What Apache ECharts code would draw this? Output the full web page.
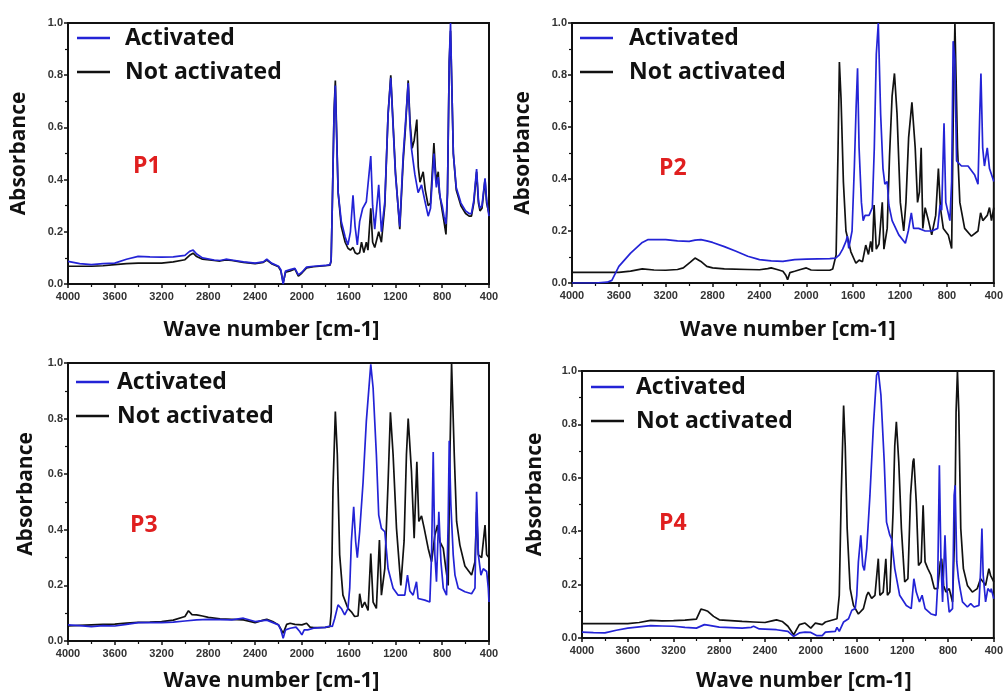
<!DOCTYPE html>
<html>
<head>
<meta charset="utf-8">
<script src="https://cdn.jsdelivr.net/npm/echarts@6/dist/echarts.min.js"></script>
<style>
html,body{margin:0;padding:0;background:#fff;}
#chart{width:1006px;height:693px;}
</style>
</head>
<body>
<div id="chart"></div>
<script>
// ---- data: [wave number (cm-1), absorbance] ----
const seriesNames = ['Activated', 'Not activated'];
const panelLabels = ['P1', 'P2', 'P3', 'P4'];
const xTickMin = 400, xTickMax = 4000, xTickStep = 400;
const yTickMin = 0, yTickMax = 1, yTickStep = 0.2;

const p1Activated = [[4000,0.087],[3900,0.078],[3800,0.074],[3700,0.078],[3600,0.08],[3500,0.095],[3400,0.106],[3300,0.104],[3200,0.103],[3100,0.104],[3000,0.11],[2960,0.125],[2930,0.13],[2900,0.115],[2850,0.1],[2750,0.092],[2700,0.09],[2650,0.095],[2600,0.092],[2500,0.085],[2400,0.08],[2330,0.085],[2300,0.095],[2260,0.08],[2200,0.068],[2180,0.055],[2160,0.0],[2140,0.05],[2100,0.055],[2060,0.06],[2030,0.035],[2000,0.045],[1960,0.065],[1900,0.068],[1800,0.071],[1760,0.074],[1750,0.09],[1740,0.3],[1725,0.65],[1714,0.76],[1705,0.6],[1690,0.35],[1663,0.24],[1630,0.18],[1606,0.15],[1585,0.2],[1563,0.34],[1545,0.22],[1526,0.15],[1506,0.24],[1480,0.29],[1449,0.315],[1435,0.31],[1411,0.49],[1395,0.3],[1377,0.21],[1343,0.38],[1320,0.2],[1291,0.315],[1263,0.65],[1240,0.79],[1225,0.65],[1200,0.42],[1163,0.22],[1134,0.49],[1114,0.62],[1091,0.77],[1075,0.6],[1063,0.52],[1034,0.42],[1006,0.35],[977,0.38],[949,0.32],[920,0.26],[900,0.29],[871,0.5],[860,0.42],[850,0.37],[834,0.41],[817,0.33],[800,0.3],[785,0.26],[768,0.23],[755,0.35],[740,0.85],[729,1.0],[720,0.8],[705,0.5],[680,0.37],[640,0.31],[600,0.28],[570,0.27],[550,0.27],[530,0.32],[506,0.44],[490,0.32],[477,0.29],[460,0.3],[434,0.405],[420,0.32],[400,0.26]];
const p1NotActivated = [[4000,0.068],[3900,0.068],[3800,0.068],[3700,0.07],[3600,0.074],[3500,0.078],[3400,0.08],[3300,0.08],[3200,0.08],[3100,0.085],[3000,0.093],[2960,0.11],[2930,0.118],[2900,0.105],[2850,0.095],[2750,0.09],[2700,0.088],[2650,0.092],[2600,0.09],[2500,0.083],[2400,0.078],[2330,0.083],[2300,0.092],[2260,0.078],[2200,0.066],[2180,0.05],[2160,0.005],[2140,0.045],[2100,0.05],[2060,0.058],[2030,0.03],[2000,0.042],[1960,0.062],[1900,0.066],[1800,0.07],[1760,0.072],[1750,0.088],[1740,0.3],[1725,0.66],[1714,0.78],[1705,0.62],[1690,0.35],[1663,0.22],[1630,0.16],[1606,0.137],[1585,0.13],[1563,0.14],[1545,0.12],[1526,0.115],[1506,0.12],[1490,0.16],[1470,0.12],[1449,0.16],[1435,0.13],[1411,0.29],[1395,0.16],[1377,0.14],[1343,0.2],[1320,0.16],[1291,0.3],[1263,0.65],[1240,0.8],[1225,0.66],[1200,0.43],[1163,0.21],[1134,0.47],[1114,0.6],[1091,0.78],[1075,0.62],[1057,0.52],[1040,0.55],[1017,0.63],[1005,0.45],[990,0.39],[963,0.43],[945,0.36],[920,0.3],[900,0.31],[871,0.54],[860,0.45],[850,0.39],[834,0.43],[825,0.35],[817,0.33],[800,0.28],[785,0.24],[768,0.19],[755,0.35],[740,0.85],[729,0.97],[720,0.8],[705,0.5],[680,0.36],[640,0.3],[600,0.27],[570,0.26],[550,0.26],[530,0.31],[506,0.43],[490,0.31],[477,0.28],[460,0.29],[434,0.4],[420,0.31],[400,0.27]];

const p2Activated = [[4000,0.0],[3800,0.0],[3700,0.003],[3660,0.01],[3600,0.064],[3500,0.115],[3400,0.156],[3350,0.167],[3200,0.167],[3100,0.162],[3000,0.16],[2950,0.165],[2900,0.167],[2850,0.162],[2800,0.156],[2700,0.14],[2600,0.122],[2500,0.103],[2400,0.09],[2300,0.085],[2200,0.083],[2100,0.09],[2000,0.092],[1900,0.093],[1800,0.094],[1750,0.096],[1718,0.108],[1690,0.13],[1662,0.16],[1650,0.18],[1638,0.133],[1610,0.2],[1590,0.45],[1575,0.68],[1563,0.826],[1550,0.52],[1530,0.31],[1515,0.24],[1499,0.26],[1465,0.26],[1437,0.29],[1420,0.52],[1403,0.88],[1386,1.0],[1366,0.65],[1346,0.44],[1330,0.38],[1310,0.39],[1296,0.3],[1268,0.24],[1211,0.185],[1155,0.153],[1130,0.2],[1104,0.27],[1085,0.21],[1042,0.21],[986,0.2],[930,0.2],[879,0.21],[859,0.3],[845,0.28],[825,0.614],[810,0.31],[775,0.24],[760,0.39],[747,0.93],[733,0.86],[718,0.47],[676,0.45],[620,0.45],[563,0.415],[535,0.38],[520,0.65],[510,0.806],[495,0.52],[480,0.45],[456,0.52],[437,0.44],[400,0.39]];
const p2NotActivated = [[4000,0.041],[3800,0.041],[3600,0.041],[3500,0.046],[3400,0.054],[3300,0.05],[3200,0.049],[3100,0.052],[3050,0.058],[2990,0.08],[2950,0.096],[2900,0.083],[2850,0.064],[2800,0.058],[2700,0.054],[2500,0.052],[2400,0.051],[2330,0.055],[2300,0.058],[2250,0.052],[2200,0.045],[2175,0.03],[2160,0.013],[2140,0.04],[2100,0.045],[2050,0.052],[2000,0.058],[1960,0.05],[1900,0.049],[1800,0.049],[1775,0.054],[1746,0.108],[1730,0.5],[1718,0.85],[1704,0.71],[1684,0.39],[1662,0.2],[1620,0.12],[1577,0.076],[1549,0.088],[1521,0.082],[1493,0.146],[1470,0.11],[1451,0.16],[1437,0.12],[1422,0.3],[1403,0.13],[1380,0.15],[1352,0.31],[1338,0.13],[1310,0.21],[1290,0.49],[1268,0.72],[1248,0.806],[1226,0.65],[1198,0.31],[1169,0.2],[1150,0.31],[1127,0.56],[1099,0.695],[1071,0.52],[1051,0.31],[1035,0.35],[1020,0.52],[1006,0.21],[986,0.29],[958,0.24],[930,0.185],[896,0.26],[873,0.44],[856,0.29],[831,0.21],[789,0.185],[760,0.133],[746,0.65],[732,1.0],[710,0.52],[690,0.31],[649,0.21],[591,0.18],[535,0.2],[513,0.27],[494,0.24],[456,0.26],[437,0.29],[420,0.24],[400,0.29]];

const p3Activated = [[4000,0.058],[3900,0.055],[3800,0.052],[3700,0.055],[3600,0.054],[3500,0.06],[3400,0.066],[3300,0.066],[3200,0.066],[3100,0.068],[3000,0.072],[2900,0.076],[2800,0.078],[2700,0.077],[2600,0.076],[2500,0.082],[2400,0.07],[2300,0.075],[2200,0.058],[2180,0.04],[2160,0.01],[2140,0.04],[2100,0.046],[2050,0.05],[2020,0.035],[2000,0.022],[1980,0.04],[1950,0.04],[1900,0.046],[1800,0.049],[1760,0.054],[1740,0.052],[1720,0.08],[1691,0.13],[1663,0.117],[1634,0.094],[1606,0.117],[1591,0.19],[1577,0.357],[1557,0.483],[1540,0.357],[1526,0.3],[1506,0.393],[1477,0.57],[1449,0.79],[1411,0.995],[1391,0.91],[1363,0.67],[1343,0.453],[1320,0.405],[1291,0.393],[1263,0.26],[1220,0.19],[1177,0.165],[1120,0.165],[1097,0.237],[1077,0.18],[1049,0.165],[1020,0.213],[1006,0.153],[949,0.147],[906,0.14],[891,0.31],[877,0.68],[863,0.31],[849,0.213],[829,0.465],[811,0.285],[791,0.19],[763,0.165],[749,0.43],[740,0.72],[726,0.49],[706,0.31],[691,0.237],[663,0.19],[606,0.177],[549,0.17],[520,0.19],[506,0.537],[491,0.31],[469,0.237],[449,0.26],[420,0.25],[406,0.19],[400,0.14]];
const p3NotActivated = [[4000,0.054],[3900,0.056],[3800,0.058],[3700,0.06],[3600,0.061],[3500,0.064],[3400,0.067],[3300,0.068],[3200,0.07],[3100,0.075],[3000,0.088],[2970,0.109],[2940,0.095],[2900,0.094],[2850,0.09],[2800,0.085],[2700,0.08],[2600,0.078],[2500,0.076],[2400,0.066],[2330,0.075],[2300,0.078],[2250,0.07],[2200,0.058],[2160,0.028],[2130,0.06],[2100,0.064],[2060,0.06],[2000,0.058],[1960,0.064],[1930,0.05],[1900,0.048],[1800,0.049],[1760,0.052],[1749,0.105],[1734,0.55],[1714,0.825],[1697,0.67],[1677,0.31],[1649,0.165],[1606,0.117],[1577,0.105],[1549,0.088],[1520,0.09],[1506,0.17],[1486,0.12],[1463,0.14],[1434,0.11],[1411,0.315],[1391,0.14],[1363,0.117],[1337,0.363],[1320,0.165],[1291,0.26],[1263,0.57],[1243,0.823],[1220,0.67],[1191,0.405],[1154,0.2],[1126,0.36],[1106,0.67],[1091,0.8],[1063,0.61],[1040,0.37],[1017,0.645],[1000,0.43],[977,0.45],[954,0.405],[920,0.333],[891,0.285],[863,0.38],[840,0.417],[820,0.357],[791,0.333],[769,0.26],[749,0.2],[734,0.67],[720,1.0],[697,0.67],[677,0.43],[649,0.345],[606,0.27],[549,0.237],[520,0.285],[506,0.465],[491,0.31],[463,0.3],[434,0.417],[420,0.31],[400,0.3]];

const p4Activated = [[4000,0.022],[3900,0.02],[3800,0.019],[3700,0.029],[3600,0.037],[3500,0.042],[3400,0.046],[3300,0.045],[3200,0.044],[3100,0.04],[3000,0.037],[2930,0.05],[2900,0.048],[2800,0.041],[2700,0.039],[2600,0.037],[2520,0.04],[2500,0.044],[2450,0.034],[2400,0.033],[2300,0.031],[2200,0.025],[2150,0.006],[2100,0.019],[2050,0.022],[2000,0.021],[1950,0.009],[1900,0.009],[1872,0.022],[1786,0.025],[1771,0.04],[1751,0.025],[1713,0.06],[1670,0.072],[1641,0.104],[1612,0.11],[1598,0.16],[1584,0.285],[1563,0.385],[1546,0.272],[1532,0.253],[1511,0.335],[1483,0.534],[1454,0.784],[1425,0.984],[1410,1.0],[1387,0.91],[1358,0.66],[1338,0.434],[1309,0.385],[1295,0.372],[1266,0.26],[1223,0.16],[1165,0.122],[1122,0.11],[1099,0.222],[1078,0.172],[1050,0.135],[1027,0.16],[1001,0.11],[949,0.09],[905,0.085],[891,0.2],[876,0.647],[862,0.285],[848,0.135],[827,0.385],[810,0.185],[790,0.097],[761,0.11],[747,0.534],[738,0.572],[724,0.285],[709,0.222],[695,0.185],[674,0.135],[631,0.116],[602,0.129],[573,0.116],[530,0.122],[516,0.25],[504,0.41],[493,0.235],[472,0.135],[452,0.185],[429,0.172],[423,0.185],[400,0.147]];
const p4NotActivated = [[4000,0.054],[3800,0.054],[3600,0.054],[3500,0.058],[3400,0.066],[3300,0.064],[3200,0.065],[3100,0.067],[3000,0.071],[2960,0.108],[2930,0.105],[2900,0.1],[2850,0.081],[2800,0.068],[2700,0.065],[2600,0.062],[2500,0.06],[2400,0.058],[2330,0.065],[2300,0.068],[2250,0.062],[2200,0.044],[2150,0.012],[2100,0.05],[2050,0.056],[2000,0.037],[1960,0.056],[1900,0.05],[1872,0.06],[1771,0.072],[1751,0.16],[1734,0.534],[1713,0.871],[1699,0.72],[1682,0.41],[1656,0.185],[1627,0.122],[1584,0.09],[1540,0.11],[1511,0.16],[1497,0.172],[1468,0.148],[1439,0.16],[1410,0.297],[1396,0.16],[1367,0.172],[1344,0.297],[1330,0.16],[1309,0.172],[1281,0.47],[1266,0.72],[1252,0.81],[1231,0.66],[1208,0.41],[1179,0.21],[1151,0.222],[1128,0.534],[1107,0.66],[1099,0.672],[1078,0.51],[1058,0.272],[1035,0.285],[1018,0.497],[1001,0.285],[977,0.26],[949,0.235],[920,0.185],[891,0.185],[868,0.285],[856,0.297],[839,0.197],[819,0.172],[790,0.185],[761,0.135],[741,0.41],[730,0.846],[718,1.0],[706,0.846],[689,0.41],[666,0.26],[631,0.197],[588,0.172],[545,0.185],[516,0.222],[493,0.21],[472,0.197],[443,0.26],[429,0.235],[400,0.21]];

const panelData = [
  [p1Activated, p1NotActivated],
  [p2Activated, p2NotActivated],
  [p3Activated, p3NotActivated],
  [p4Activated, p4NotActivated]
];

// ---- layout / style ----
const colors = ['#2323d6', '#111111'];
const layout = [
  {grid:{left:68, top:23, width:421, height:261}, xGap:36, yGap:38, xPad:[0,14,0,0], yPad:[0,0,0,0],
   legend:{left:77, top:26, textPad:10}, label:{left:133, top:155}},
  {grid:{left:572, top:23, width:426, height:260}, xGap:37, yGap:38, xPad:[0,0,0,10], yPad:[0,0,0,0],
   legend:{left:580, top:26, textPad:11}, label:{left:659, top:157}},
  {grid:{left:68, top:363, width:421, height:278}, xGap:30, yGap:31, xPad:[0,14,0,0], yPad:[0,0,0,16],
   legend:{left:76, top:370, textPad:3}, label:{left:130, top:514}},
  {grid:{left:582, top:371, width:416, height:267}, xGap:33, yGap:36, xPad:[0,0,0,32], yPad:[0,0,0,20],
   legend:{left:591, top:375, textPad:7}, label:{left:659, top:512}}
];

const textFont = '"Open Sans", "Liberation Sans", sans-serif';
const tickFont = '"Liberation Sans", Arial, sans-serif';

const option = {
  backgroundColor: '#ffffff',
  animation: false,
  title: [], legend: [], grid: [], xAxis: [], yAxis: [], series: []
};

layout.forEach((L, i) => {
  option.grid.push(Object.assign({show:true, borderColor:'#111', borderWidth:2, backgroundColor:'transparent', containLabel:false}, L.grid));
  option.xAxis.push({
    type:'value', gridIndex:i, inverse:true,
    min:xTickMin, max:xTickMax, interval:xTickStep,
    name:'Wave number [cm-1]', nameLocation:'middle', nameGap:L.xGap,
    nameTextStyle:{fontFamily:textFont, fontWeight:'bold', fontSize:21, color:'#111', padding:L.xPad},
    axisLine:{show:true, onZero:false, lineStyle:{color:'#111', width:2}},
    axisTick:{show:true, inside:false, length:4, lineStyle:{color:'#111', width:1.5}},
    minorTick:{show:true, splitNumber:2, length:3, lineStyle:{color:'#111', width:1.2}},
    axisLabel:{margin:7, fontFamily:tickFont, fontWeight:'bold', fontSize:11, color:'#333',
               formatter: v => String(v)},
    splitLine:{show:false}
  });
  option.yAxis.push({
    type:'value', gridIndex:i,
    min:yTickMin, max:yTickMax, interval:yTickStep,
    name:'Absorbance', nameLocation:'middle', nameGap:L.yGap,
    nameTextStyle:{fontFamily:textFont, fontWeight:'bold', fontSize:21, color:'#111', padding:L.yPad},
    axisLine:{show:true, onZero:false, lineStyle:{color:'#111', width:2}},
    axisTick:{show:true, inside:false, length:4, lineStyle:{color:'#111', width:1.5}},
    minorTick:{show:true, splitNumber:2, length:3, lineStyle:{color:'#111', width:1.2}},
    axisLabel:{margin:5, fontFamily:tickFont, fontWeight:'bold', fontSize:11, color:'#333',
               formatter: v => v.toFixed(1)},
    splitLine:{show:false}
  });
  option.legend.push({
    data: seriesNames.map((nm, k) => ({name:nm, icon:'rect', itemStyle:{color:colors[k]}})),
    orient:'vertical', left:L.legend.left, top:L.legend.top,
    padding:0, itemGap:10, itemWidth:33, itemHeight:2.5,
    selectedMode:false,
    textStyle:{fontFamily:textFont, fontWeight:'bold', fontSize:23, color:'#111', lineHeight:24,
               padding:[0,0,0,L.legend.textPad]}
  });
  option.title.push({
    text: panelLabels[i], left:L.label.left, top:L.label.top, padding:0,
    textStyle:{fontFamily:textFont, fontWeight:'bold', fontSize:23, color:'#e01f1f'}
  });
  seriesNames.forEach((nm, k) => {
    option.series.push({
      name:nm, type:'line', xAxisIndex:i, yAxisIndex:i,
      data: panelData[i][k],
      symbol:'none', showSymbol:false, smooth:false,
      lineStyle:{color:colors[k], width:1.7},
      itemStyle:{color:colors[k]},
      z: k === 0 ? 3 : 2
    });
  });
});

const chart = echarts.init(document.getElementById('chart'), null, {renderer:'canvas'});
chart.setOption(option);
</script>
</body>
</html>
